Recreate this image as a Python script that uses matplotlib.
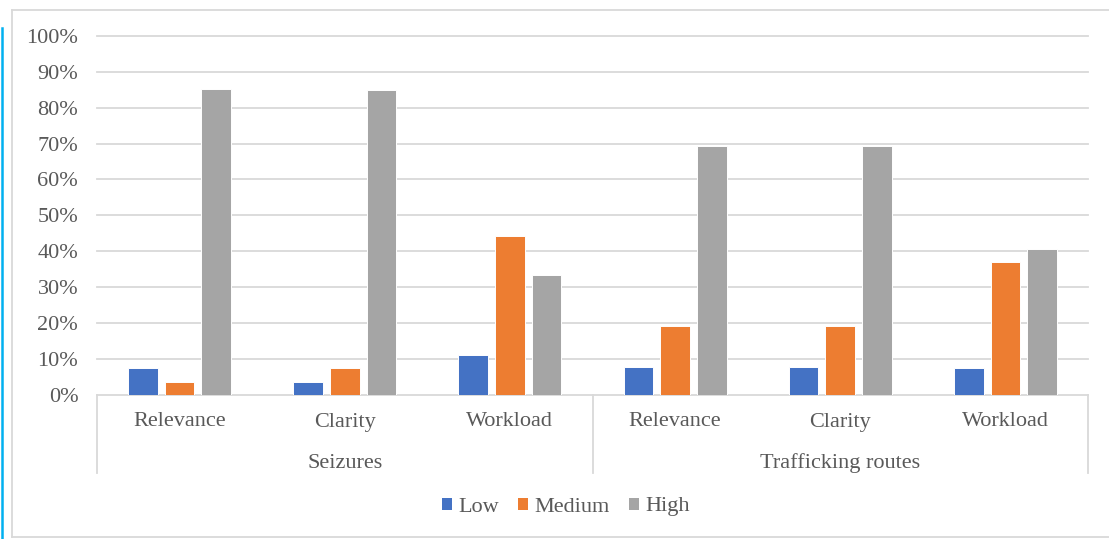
import numpy as np
import matplotlib
matplotlib.use("Agg")
import matplotlib.pyplot as plt
from matplotlib.patches import Patch
from matplotlib.lines import Line2D
from matplotlib.ticker import PercentFormatter
from matplotlib.transforms import blended_transform_factory

# ---- data
groups = ["Seizures", "Trafficking routes"]
criteria = ["Relevance", "Clarity", "Workload"]
series = ["Low", "Medium", "High"]
low = [7.4, 3.7, 11.1, 7.7, 7.7, 7.4]
medium = [3.7, 7.4, 44.4, 19.2, 19.2, 37.0]
high = [85.2, 84.8, 33.3, 69.2, 69.2, 40.7]

COLORS = ["#4472C4", "#ED7D31", "#A5A5A5"]
INK = "#595959"
GRID = "#D9D9D9"
FONT = "Liberation Serif"
FS = 16

W, H = 1109, 539
plt.rcParams["font.family"] = [FONT, "DejaVu Serif"]

fig = plt.figure(figsize=(W / 100, H / 100), dpi=100)
x0, x1, ytop, ybot = 97, 1088, 35.8, 395
ax = fig.add_axes([x0 / W, 1 - ybot / H, (x1 - x0) / W, (ybot - ytop) / H])

x = np.arange(len(low))
step, bw = 0.222, 0.179
for k, (vals, col, lab) in enumerate(zip([low, medium, high], COLORS, series)):
    ax.bar(x + (k - 1) * step, np.array(vals) / 100, bw, color=col,
           edgecolor="white", linewidth=0.7, zorder=3, label=lab)

ax.set_xlim(-0.5, len(low) - 0.5)
ax.set_ylim(0, 1)
ax.set_yticks(np.arange(0, 1.01, 0.1))
ax.yaxis.set_major_formatter(PercentFormatter(1.0, decimals=0))
ax.tick_params(axis="y", length=0, pad=13.5, labelsize=FS, labelcolor=INK)
ax.set_xticks([])
for s in ax.spines.values():
    s.set_visible(False)
ax.set_axisbelow(True)
ax.grid(axis="y", color=GRID, lw=1.3)
for gl in ax.get_ygridlines():
    gl.set_clip_on(False)

# ---- two-level category axis
tr = blended_transform_factory(ax.transData, fig.transFigure)
labels = criteria * len(groups)
for xi, lab in zip(x, labels):
    ax.text(xi, 1 - 422 / H, lab, transform=tr, ha="center", va="center",
            fontsize=FS, color=INK)
for g, name in enumerate(groups):
    ax.text(g * 3 + 1, 1 - 463 / H, name, transform=tr, ha="center",
            va="center", fontsize=FS, color=INK)
for xs in [-0.5, 2.5, 5.5]:
    ax.add_line(Line2D([xs, xs], [1 - 395 / H, 1 - 473 / H], transform=tr,
                       color=GRID, lw=1.3, clip_on=False))

# ---- legend
handles = [Patch(facecolor=c, label=l) for c, l in zip(COLORS, series)]
leg = fig.legend(handles=handles, loc="center", bbox_to_anchor=(566 / W, 1 - 507 / H),
                 ncol=3, frameon=False, fontsize=FS, handlelength=0.45,
                 handleheight=0.45, handletextpad=0.3, columnspacing=0.85)
for t in leg.get_texts():
    t.set_color(INK)

# ---- chart frame and left accent line
fr = dict(color=GRID, lw=1.3, transform=fig.transFigure)
fig.add_artist(Line2D([12 / W, 1], [1 - 10 / H, 1 - 10 / H], **fr))
fig.add_artist(Line2D([12 / W, 12 / W], [1 - 10 / H, 1 - 537 / H], **fr))
fig.add_artist(Line2D([12 / W, 1], [1 - 537 / H, 1 - 537 / H], **fr))
fig.add_artist(Line2D([1.5 / W, 1.5 / W], [1 - 28 / H, 0], color="#00B0F0",
                      lw=1.8, transform=fig.transFigure))

fig.savefig("out.png", dpi=100)
